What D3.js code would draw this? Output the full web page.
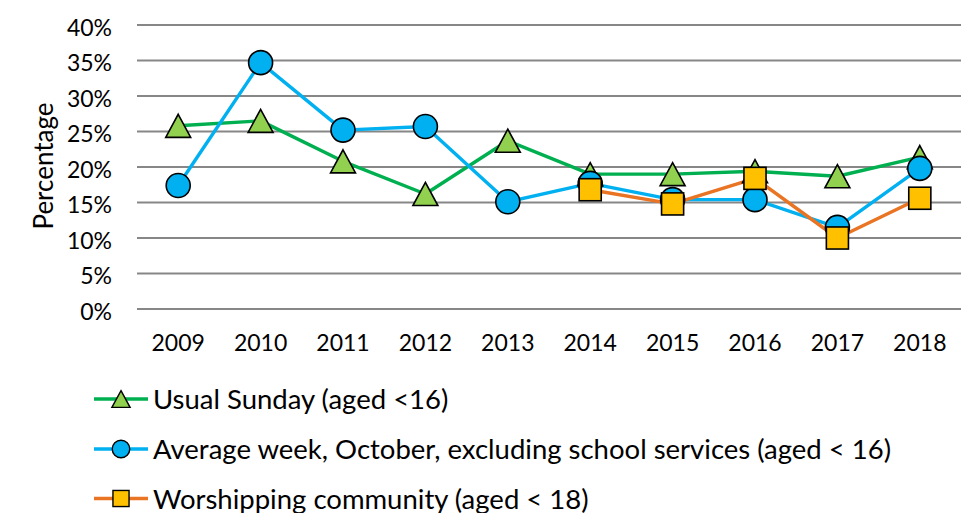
<!DOCTYPE html>
<html><head><meta charset="utf-8">
<script src="https://cdn.jsdelivr.net/npm/d3@7/dist/d3.min.js"></script>
<style>body{margin:0;background:#fff;} svg{display:block;}</style>
</head><body>
<svg id="chart" width="980" height="513"></svg>
<script>
const years = ["2009","2010","2011","2012","2013","2014","2015","2016","2017","2018"];
const usualSunday = [25.8, 26.5, 20.8, 16.2, 23.7, 19.0, 19.0, 19.4, 18.7, 21.4];
const averageWeek = [17.4, 34.7, 25.2, 25.7, 15.1, 17.7, 15.4, 15.4, 11.5, 19.8];
const worshipping = [null, null, null, null, null, 16.8, 14.8, 18.4, 10.0, 15.6];
const yTicks = [0, 5, 10, 15, 20, 25, 30, 35, 40];
const seriesNames = ["Usual Sunday (aged <16)", "Average week, October, excluding school services (aged < 16)", "Worshipping community (aged < 18)"];

(function () {
const series = [
  {name: seriesNames[0], values: usualSunday, line: "#00b050", fill: "#92d050", shape: "triangle"},
  {name: seriesNames[1], values: averageWeek, line: "#00b0f0", fill: "#00b0f0", shape: "circle"},
  {name: seriesNames[2], values: worshipping, line: "#e97423", fill: "#ffc000", shape: "square"}
];

const font = "Lato, 'Open Sans', sans-serif";
const svg = d3.select("#chart");
const pLeft = 137, pRight = 961, pTop = 25, pBottom = 309;

const x = d3.scaleBand().domain(years).range([pLeft, pRight]);
const y = d3.scaleLinear().domain([0, 40]).range([pBottom, pTop]);

svg.append("g").selectAll("line").data(yTicks).join("line")
  .attr("x1", pLeft).attr("x2", pRight)
  .attr("y1", d => y(d)).attr("y2", d => y(d))
  .attr("stroke", "#878787").attr("stroke-width", 1.8);

const yAxis = d3.axisLeft(y).tickValues(yTicks).tickFormat(d => d + "%").tickSize(0).tickPadding(0);
const gy = svg.append("g").attr("transform", `translate(${pLeft - 25},3)`).call(yAxis);
gy.select(".domain").remove();
gy.selectAll("text").attr("font-family", font).attr("font-size", 23).attr("fill", "#000");

const xAxis = d3.axisBottom(x).tickSize(0).tickPadding(0);
const gx = svg.append("g").attr("transform", `translate(0,${pBottom + 26})`).call(xAxis);
gx.select(".domain").remove();
gx.selectAll("text").attr("font-family", font).attr("font-size", 23).attr("fill", "#000");

svg.append("text").attr("transform", `translate(53,166) rotate(-90)`)
  .attr("text-anchor", "middle").attr("font-family", font).attr("font-size", 26)
  .attr("fill", "#000").text("Percentage");

const cx = d => x(d) + x.bandwidth() / 2;

function marker(g, shape, size) {
  if (shape === "circle") {
    return g.append("circle").attr("r", size / 2);
  } else if (shape === "square") {
    const s = size * 0.92;
    return g.append("rect").attr("x", -s / 2).attr("y", -s / 2).attr("width", s).attr("height", s);
  } else {
    const h = size * 0.96, w = size * 1.04;
    return g.append("path").attr("d", `M0,${-h / 2}L${w / 2},${h / 2}L${-w / 2},${h / 2}Z`);
  }
}

series.forEach(s => {
  const line = d3.line().defined(d => d.v != null).x(d => cx(d.year)).y(d => y(d.v));
  const pts = years.map((yr, i) => ({year: yr, v: s.values[i]}));
  svg.append("path").datum(pts).attr("d", line)
    .attr("fill", "none").attr("stroke", s.line).attr("stroke-width", 3.4).attr("stroke-linejoin", "round");
});
series.forEach(s => {
  const pts = years.map((yr, i) => ({year: yr, v: s.values[i]})).filter(d => d.v != null);
  pts.forEach(d => {
    const g = svg.append("g").attr("transform", `translate(${cx(d.year)},${y(d.v)})`);
    marker(g, s.shape, 24).attr("fill", s.fill).attr("stroke", "#000").attr("stroke-width", 1.6);
  });
});

const legY = [399, 449, 498.5];
series.forEach((s, i) => {
  const g = svg.append("g").attr("transform", `translate(0,${legY[i]})`);
  g.append("line").attr("x1", 94).attr("x2", 148).attr("y1", 0).attr("y2", 0)
    .attr("stroke", s.line).attr("stroke-width", 3.4);
  const m = g.append("g").attr("transform", "translate(121,0)");
  marker(m, s.shape, 17.5).attr("fill", s.fill).attr("stroke", "#000").attr("stroke-width", 1.4);
  g.append("text").attr("x", 153).attr("y", 10)
    .attr("font-family", font).attr("font-size", 27.5).attr("fill", "#000").text(s.name);
});
})();
</script>
</body></html>
